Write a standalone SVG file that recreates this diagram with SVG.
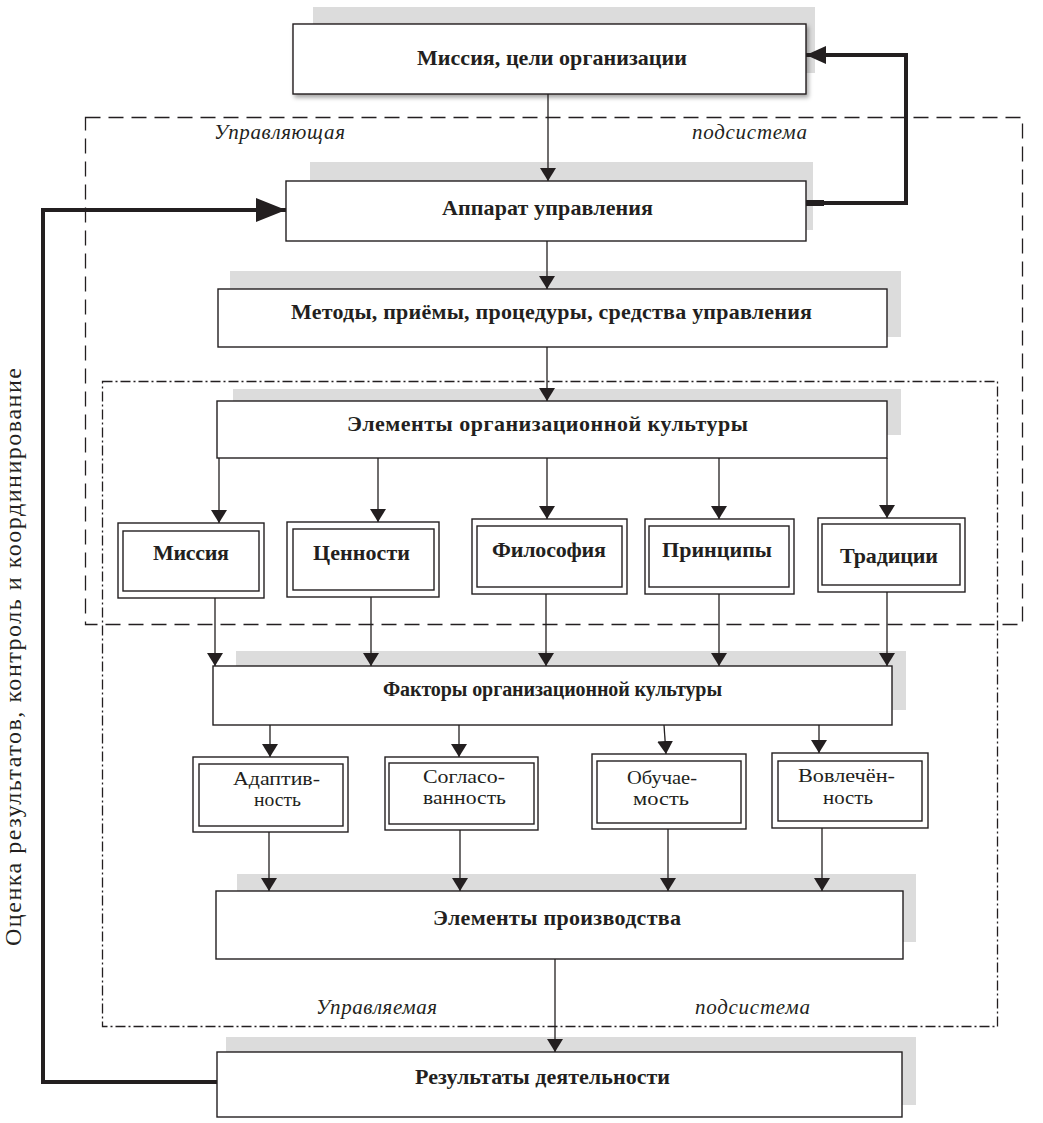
<svg xmlns="http://www.w3.org/2000/svg" width="1043" height="1123" viewBox="0 0 1043 1123">
<style>
text{font-family:"Liberation Serif","Times New Roman",serif;fill:#231f20}
.h{font-weight:bold;font-size:22px}
.r{font-size:19px}
.i{font-style:italic;font-size:21px}
.box{fill:#fff;stroke:#231f20;stroke-width:1.4}
.sh{fill:#dcdcdc}
.ln{fill:none;stroke:#231f20;stroke-width:1.3}
.thick{fill:none;stroke:#231f20;stroke-width:4}
.dash{fill:none;stroke:#231f20;stroke-width:1.3;stroke-dasharray:15 8}
.dd{fill:none;stroke:#231f20;stroke-width:1.3;stroke-dasharray:10 3 2 3}
</style>
<defs>
<marker id="a" markerUnits="userSpaceOnUse" markerWidth="14" markerHeight="16" refX="13" refY="8" orient="auto"><path d="M0,0 L13,8 L0,16 z" fill="#231f20"/></marker>
<marker id="big" markerUnits="userSpaceOnUse" markerWidth="31" markerHeight="24" refX="30" refY="12" orient="auto"><path d="M0,0 L30,12 L0,24 z" fill="#231f20"/></marker>
<marker id="mid" markerUnits="userSpaceOnUse" markerWidth="21" markerHeight="18" refX="20" refY="9" orient="auto"><path d="M0,0 L20,9 L0,18 z" fill="#231f20"/></marker>
<filter id="ds" x="-5%" y="-20%" width="110%" height="150%"><feDropShadow dx="2" dy="3" stdDeviation="2" flood-color="#000" flood-opacity="0.35"/></filter>
</defs>

<g id="frames">
<rect class="dash" x="85.5" y="117.5" width="937" height="507"/>
<rect class="dd" x="102.5" y="381.5" width="895" height="645"/>
<text class="i" x="214" y="139" textLength="131">Управляющая</text>
<text class="i" x="692" y="139" textLength="115">подсистема</text>
<text class="i" x="316" y="1014" textLength="121">Управляемая</text>
<text class="i" x="695" y="1014" textLength="115">подсистема</text>
</g>

<g id="n-mission">
<rect class="sh" x="313" y="7" width="502" height="66"/>
<rect class="box" x="293" y="24" width="513" height="70" filter="url(#ds)"/>
<text class="h" x="417" y="65" textLength="270">Миссия, цели организации</text>
</g>

<g id="n-apparat">
<rect class="sh" x="310" y="162" width="503" height="68"/>
<rect class="box" x="286" y="181" width="520" height="60"/>
<text class="h" x="442" y="215" textLength="211">Аппарат управления</text>
</g>

<g id="n-methods">
<rect class="sh" x="230" y="271" width="671" height="66"/>
<rect class="box" x="218" y="289" width="669" height="58"/>
<text class="h" x="291" y="319" textLength="521">Методы, приёмы, процедуры, средства управления</text>
</g>

<g id="n-elements">
<rect class="sh" x="233" y="389" width="668" height="46"/>
<rect class="box" x="217" y="401" width="670" height="57"/>
<text class="h" x="347" y="431" textLength="401">Элементы организационной культуры</text>
</g>

<g id="n-missiya">
<rect class="box" x="118" y="523" width="146" height="75"/>
<rect class="box" x="123" y="531" width="136" height="60"/>
<text class="h" x="153" y="560" textLength="76">Миссия</text>
</g>
<g id="n-cennosti">
<rect class="box" x="287" y="522" width="152" height="75"/>
<rect class="box" x="293" y="529" width="141" height="61"/>
<text class="h" x="313" y="560" textLength="97">Ценности</text>
</g>
<g id="n-filosofia">
<rect class="box" x="472" y="519" width="155" height="75"/>
<rect class="box" x="477" y="526" width="145" height="61"/>
<text class="h" x="492" y="557" textLength="114">Философия</text>
</g>
<g id="n-principy">
<rect class="box" x="645" y="519" width="149" height="75"/>
<rect class="box" x="649" y="526" width="140" height="61"/>
<text class="h" x="662" y="557" textLength="110">Принципы</text>
</g>
<g id="n-tradicii">
<rect class="box" x="818" y="518" width="147" height="74"/>
<rect class="box" x="822" y="524" width="138" height="61"/>
<text class="h" x="840" y="563" textLength="98">Традиции</text>
</g>

<g id="n-factors">
<rect class="sh" x="236" y="651" width="670" height="59"/>
<rect class="box" x="213" y="666" width="679" height="59"/>
<text class="h" x="383" y="696" textLength="339" style="font-size:20px">Факторы организационной культуры</text>
</g>

<g id="n-adapt">
<rect class="box" x="193" y="757" width="155" height="75"/>
<rect class="box" x="199" y="764" width="144" height="62"/>
<text class="r" x="233" y="785" textLength="87" lengthAdjust="spacingAndGlyphs">Адаптив-</text>
<text class="r" x="254" y="806" textLength="47" lengthAdjust="spacingAndGlyphs">ность</text>
</g>
<g id="n-soglas">
<rect class="box" x="385" y="757" width="153" height="73"/>
<rect class="box" x="389" y="763" width="145" height="61"/>
<text class="r" x="423" y="783" textLength="82" lengthAdjust="spacingAndGlyphs">Согласо-</text>
<text class="r" x="423" y="804" textLength="83" lengthAdjust="spacingAndGlyphs">ванность</text>
</g>
<g id="n-obuch">
<rect class="box" x="592" y="754" width="154" height="75"/>
<rect class="box" x="597" y="761" width="144" height="62"/>
<text class="r" x="627" y="784" textLength="70" lengthAdjust="spacingAndGlyphs">Обучае-</text>
<text class="r" x="633" y="805" textLength="56" lengthAdjust="spacingAndGlyphs">мость</text>
</g>
<g id="n-vovl">
<rect class="box" x="772" y="753" width="156" height="75"/>
<rect class="box" x="778" y="761" width="144" height="60"/>
<text class="r" x="798" y="782" textLength="97" lengthAdjust="spacingAndGlyphs">Вовлечён-</text>
<text class="r" x="823" y="804" textLength="50" lengthAdjust="spacingAndGlyphs">ность</text>
</g>

<g id="n-prod">
<rect class="sh" x="237" y="874" width="679" height="68"/>
<rect class="box" x="216" y="891" width="687" height="68"/>
<text class="h" x="433" y="925" textLength="248">Элементы производства</text>
</g>

<g id="n-results">
<rect class="sh" x="226" y="1037" width="690" height="68"/>
<rect class="box" x="217" y="1052" width="685" height="65"/>
<text class="h" x="415" y="1084" textLength="255">Результаты деятельности</text>
</g>

<g id="side-label">
<text x="21" y="946" transform="rotate(-90 21 946)" textLength="578" style="font-size:24px">Оценка результатов, контроль и координирование</text>
</g>

<g id="connectors">
<line class="ln" x1="548" y1="94" x2="548" y2="181" marker-end="url(#a)"/>
<line class="ln" x1="547" y1="241" x2="547" y2="289" marker-end="url(#a)"/>
<line class="ln" x1="547" y1="347" x2="547" y2="401" marker-end="url(#a)"/>
<line class="ln" x1="219" y1="458" x2="219" y2="523" marker-end="url(#a)"/>
<line class="ln" x1="378" y1="458" x2="378" y2="522" marker-end="url(#a)"/>
<line class="ln" x1="547" y1="458" x2="547" y2="519" marker-end="url(#a)"/>
<line class="ln" x1="719" y1="458" x2="719" y2="519" marker-end="url(#a)"/>
<line class="ln" x1="887" y1="458" x2="887" y2="518" marker-end="url(#a)"/>
<line class="ln" x1="215" y1="598" x2="215" y2="666" marker-end="url(#a)"/>
<line class="ln" x1="371" y1="597" x2="371" y2="666" marker-end="url(#a)"/>
<line class="ln" x1="546" y1="594" x2="546" y2="666" marker-end="url(#a)"/>
<line class="ln" x1="719" y1="594" x2="719" y2="666" marker-end="url(#a)"/>
<line class="ln" x1="887" y1="592" x2="887" y2="666" marker-end="url(#a)"/>
<line class="ln" x1="270" y1="725" x2="270" y2="757" marker-end="url(#a)"/>
<line class="ln" x1="459" y1="725" x2="459" y2="757" marker-end="url(#a)"/>
<line class="ln" x1="664" y1="725" x2="666" y2="754" marker-end="url(#a)"/>
<line class="ln" x1="819" y1="725" x2="819" y2="753" marker-end="url(#a)"/>
<line class="ln" x1="269" y1="832" x2="269" y2="891" marker-end="url(#a)"/>
<line class="ln" x1="460" y1="830" x2="460" y2="891" marker-end="url(#a)"/>
<line class="ln" x1="668" y1="829" x2="668" y2="891" marker-end="url(#a)"/>
<line class="ln" x1="822" y1="828" x2="822" y2="891" marker-end="url(#a)"/>
<line class="ln" x1="555" y1="959" x2="555" y2="1052" marker-end="url(#a)"/>
<polyline class="thick" points="217,1082 43,1082 43,210 286,210" marker-end="url(#big)"/>
<polyline class="thick" points="806,203 906,203 906,55 806,55" marker-end="url(#mid)"/>
<line stroke="#231f20" stroke-width="6" x1="806" y1="203" x2="824" y2="203"/>
</g>
</svg>
